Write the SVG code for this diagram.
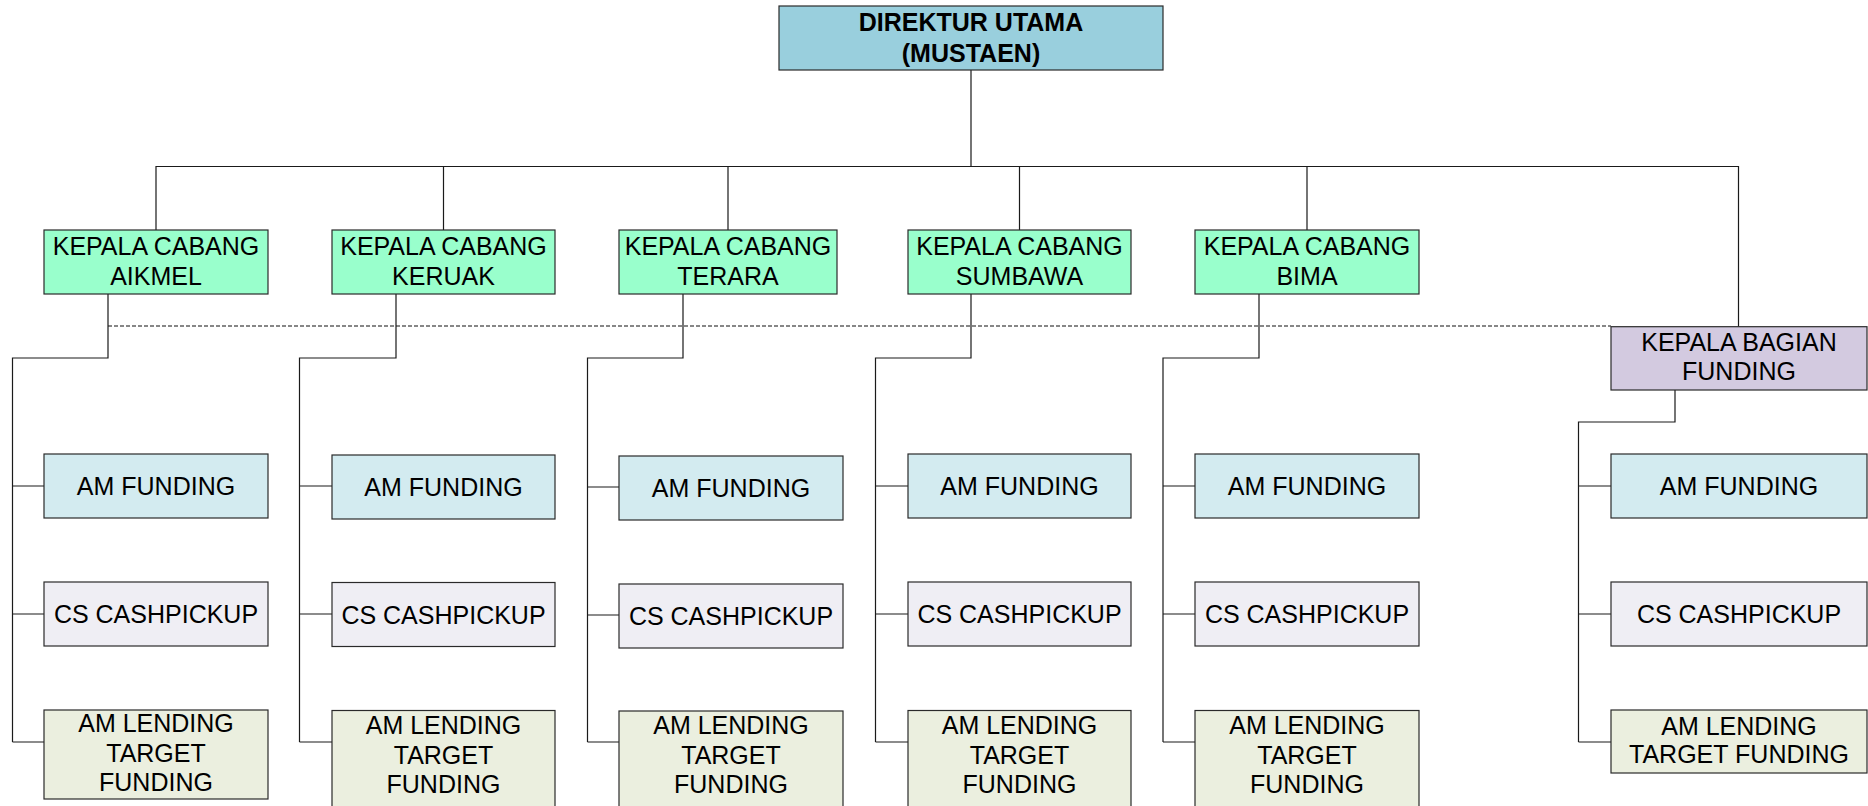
<svg xmlns="http://www.w3.org/2000/svg" width="1868" height="806" viewBox="0 0 1868 806">
<style>
.box{stroke:#2a2a2a;stroke-width:1.2}
.top{fill:#99CFDD}
.kc{fill:#99FFCC}
.kb{fill:#D3CAE0}
.amf{fill:#D3EBF0}
.cs{fill:#EFEEF4}
.aml{fill:#EBEFDF}
text{font-family:"Liberation Sans",Arial,sans-serif;font-size:25px;fill:#000;text-anchor:middle}
.b{font-weight:bold}
.ln{fill:none;stroke:#1a1a1a;stroke-width:1.2}
.dash{fill:none;stroke:#111;stroke-width:1.2;stroke-dasharray:4 2}
</style>
<rect width="1868" height="806" fill="#fff"/>
<g id="connectors">
<path class="ln" d="M971 70V166.5M156 230V166.5H1738.5V326.7M443.5 166.5V230M728 166.5V230M1019.5 166.5V230M1307 166.5V230"/>
<path class="dash" d="M108 326H1611"/>
<path class="ln" d="M108 294V358H12.5V742M12.5 486H44M12.5 614H44M12.5 742H44"/>
<path class="ln" d="M396 294V358H299.5V742M299.5 486H332M299.5 614H332M299.5 742H332"/>
<path class="ln" d="M683 294V358H587.5V742M587.5 487H619M587.5 615H619M587.5 742H619"/>
<path class="ln" d="M971 294V358H875.5V742M875.5 486H908M875.5 614H908M875.5 742H908"/>
<path class="ln" d="M1259 294V358H1163V742M1163 486H1195M1163 614H1195M1163 742H1195"/>
<path class="ln" d="M1675 390V422H1578.5V742M1578.5 486H1611M1578.5 614H1611M1578.5 742H1611"/>
</g>
<g id="direktur"><rect class="box top" x="779" y="6" width="384" height="64"/><text class="b" x="971" y="31">DIREKTUR UTAMA</text><text class="b" x="971" y="62">(MUSTAEN)</text></g>
<g id="kc-aikmel"><rect class="box kc" x="44" y="230" width="224" height="64"/><text x="156" y="255">KEPALA CABANG</text><text x="156" y="285">AIKMEL</text></g>
<g id="kc-keruak"><rect class="box kc" x="332" y="230" width="223" height="64"/><text x="443.5" y="255">KEPALA CABANG</text><text x="443.5" y="285">KERUAK</text></g>
<g id="kc-terara"><rect class="box kc" x="619" y="230" width="218" height="64"/><text x="728" y="255">KEPALA CABANG</text><text x="728" y="285">TERARA</text></g>
<g id="kc-sumbawa"><rect class="box kc" x="908" y="230" width="223" height="64"/><text x="1019.5" y="255">KEPALA CABANG</text><text x="1019.5" y="285">SUMBAWA</text></g>
<g id="kc-bima"><rect class="box kc" x="1195" y="230" width="224" height="64"/><text x="1307" y="255">KEPALA CABANG</text><text x="1307" y="285">BIMA</text></g>
<g id="kb-funding"><rect class="box kb" x="1611" y="326.7" width="256" height="63.3"/><text x="1739" y="350.5">KEPALA BAGIAN</text><text x="1739" y="379.5">FUNDING</text></g>
<g id="c1-amf"><rect class="box amf" x="44" y="454" width="224" height="64"/><text x="156" y="495">AM FUNDING</text></g>
<g id="c1-cs"><rect class="box cs" x="44" y="582" width="224" height="64"/><text x="156" y="623">CS CASHPICKUP</text></g>
<g id="c1-aml"><rect class="box aml" x="44" y="710" width="224" height="89"/><text x="156" y="732">AM LENDING</text><text x="156" y="762">TARGET</text><text x="156" y="791">FUNDING</text></g>
<g id="c2-amf"><rect class="box amf" x="332" y="455" width="223" height="64"/><text x="443.5" y="496">AM FUNDING</text></g>
<g id="c2-cs"><rect class="box cs" x="332" y="582.5" width="223" height="64"/><text x="443.5" y="623.5">CS CASHPICKUP</text></g>
<g id="c2-aml"><rect class="box aml" x="332" y="710.5" width="223" height="100"/><text x="443.5" y="734">AM LENDING</text><text x="443.5" y="764">TARGET</text><text x="443.5" y="793">FUNDING</text></g>
<g id="c3-amf"><rect class="box amf" x="619" y="456" width="224" height="64"/><text x="731" y="497">AM FUNDING</text></g>
<g id="c3-cs"><rect class="box cs" x="619" y="584" width="224" height="64"/><text x="731" y="625">CS CASHPICKUP</text></g>
<g id="c3-aml"><rect class="box aml" x="619" y="711" width="224" height="100"/><text x="731" y="734">AM LENDING</text><text x="731" y="764">TARGET</text><text x="731" y="793">FUNDING</text></g>
<g id="c4-amf"><rect class="box amf" x="908" y="454" width="223" height="64"/><text x="1019.5" y="495">AM FUNDING</text></g>
<g id="c4-cs"><rect class="box cs" x="908" y="582" width="223" height="64"/><text x="1019.5" y="623">CS CASHPICKUP</text></g>
<g id="c4-aml"><rect class="box aml" x="908" y="710.5" width="223" height="100"/><text x="1019.5" y="734">AM LENDING</text><text x="1019.5" y="764">TARGET</text><text x="1019.5" y="793">FUNDING</text></g>
<g id="c5-amf"><rect class="box amf" x="1195" y="454" width="224" height="64"/><text x="1307" y="495">AM FUNDING</text></g>
<g id="c5-cs"><rect class="box cs" x="1195" y="582" width="224" height="64"/><text x="1307" y="623">CS CASHPICKUP</text></g>
<g id="c5-aml"><rect class="box aml" x="1195" y="710.5" width="224" height="100"/><text x="1307" y="734">AM LENDING</text><text x="1307" y="764">TARGET</text><text x="1307" y="793">FUNDING</text></g>
<g id="kb-amf"><rect class="box amf" x="1611" y="454" width="256" height="64"/><text x="1739" y="495">AM FUNDING</text></g>
<g id="kb-cs"><rect class="box cs" x="1611" y="582" width="256" height="64"/><text x="1739" y="623">CS CASHPICKUP</text></g>
<g id="kb-aml"><rect class="box aml" x="1611" y="710" width="256" height="63"/><text x="1739" y="734.5">AM LENDING</text><text x="1739" y="763">TARGET FUNDING</text></g>
</svg>
